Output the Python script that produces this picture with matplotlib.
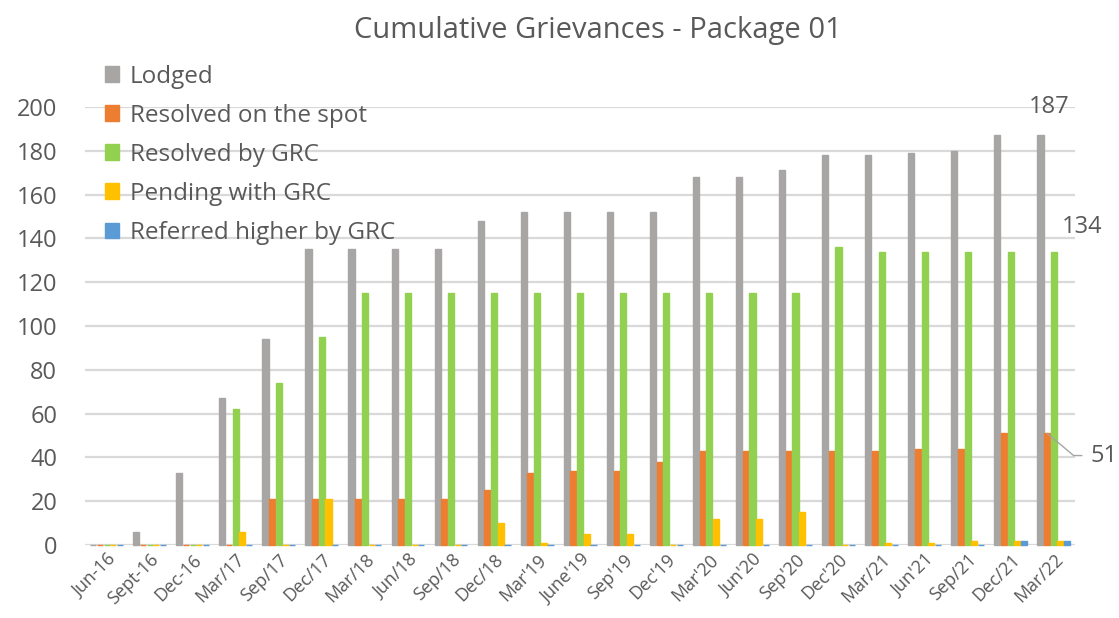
import numpy as np
import matplotlib.pyplot as plt

plt.rcParams['font.family'] = ['Open Sans', 'DejaVu Sans']

quarters = ["Jun-16", "Sept-16", "Dec-16", "Mar/17", "Sep/17", "Dec/17", "Mar/18",
            "Jun/18", "Sep/18", "Dec/18", "Mar'19", "June'19", "Sep'19", "Dec'19",
            "Mar'20", "Jun'20", "Sep'20", "Dec'20", "Mar/21", "Jun'21", "Sep/21",
            "Dec/21", "Mar/22"]

lodged = [0, 6, 33, 67, 94, 135, 135, 135, 135, 148, 152, 152, 152, 152,
          168, 168, 171, 178, 178, 179, 180, 187, 187]
resolved_spot = [0, 0, 0, 0, 21, 21, 21, 21, 21, 25, 33, 34, 34, 38,
                 43, 43, 43, 43, 43, 44, 44, 51, 51]
resolved_grc = [0, 0, 0, 62, 74, 95, 115, 115, 115, 115, 115, 115, 115, 115,
                115, 115, 115, 136, 134, 134, 134, 134, 134]
pending_grc = [0, 0, 0, 6, 0, 21, 0, 0, 0, 10, 1, 5, 5, 0,
               12, 12, 15, 0, 1, 1, 2, 2, 2]
referred_higher = [0, 0, 0, 0, 0, 0, 0, 0, 0, 0, 0, 0, 0, 0,
                   0, 0, 0, 0, 0, 0, 0, 2, 2]

series = [
    ("Lodged", lodged, "#A8A5A5"),
    ("Resolved on the spot", resolved_spot, "#ED7D31"),
    ("Resolved by GRC", resolved_grc, "#92D050"),
    ("Pending with GRC", pending_grc, "#FFC000"),
    ("Referred higher by GRC", referred_higher, "#5B9BD5"),
]

text_color = "#595959"
x = np.arange(len(quarters))
width = 0.155

fig = plt.figure(figsize=(11.19, 6.18), dpi=100)
ax = fig.add_axes([0.076, 0.118, 0.885, 0.709])

for i, (name, vals, color) in enumerate(series):
    offset = (i - 2) * width
    ax.bar(x + offset, vals, width=width * 0.92, color=color,
           edgecolor=color, linewidth=1.0, label=name, zorder=3, clip_on=False)

ax.set_xlim(-0.5, len(quarters) - 0.5)
ax.set_ylim(0, 200)
ax.set_yticks(np.arange(0, 201, 20))
ax.grid(axis='y', color='#D9D9D9', linewidth=1.6, zorder=0)
ax.set_axisbelow(True)
for s in ax.spines.values():
    s.set_visible(False)
ax.tick_params(axis='both', length=0, colors=text_color)
ax.tick_params(axis='y', labelsize=17, pad=20)
ax.set_xticks(x)
ax.set_xticklabels(quarters, rotation=45, ha='right', rotation_mode='anchor',
                   fontsize=13, color=text_color)
ax.tick_params(axis='x', pad=4)

fig.text(0.534, 0.951, "Cumulative Grievances - Package 01", fontsize=21,
         color=text_color, ha='center', va='center')

leg = ax.legend(loc='upper left', bbox_to_anchor=(0.005, 1.13), frameon=False,
                fontsize=17.5, handlelength=0.6, handleheight=0.6,
                handletextpad=0.45, labelspacing=0.62, labelcolor=text_color,
                borderaxespad=0.2)

# value labels on the last quarter
last = len(quarters) - 1
ax.annotate(f"{lodged[last]}", xy=(last - 2 * width, lodged[last]),
            xytext=(6, 12), textcoords='offset points', ha='center', va='bottom',
            fontsize=17, color=text_color)
ax.annotate(f"{resolved_grc[last]}", xy=(last, resolved_grc[last]),
            xytext=(6, 9), textcoords='offset points', ha='left', va='bottom',
            fontsize=17, color=text_color, annotation_clip=False)
ax.annotate(f"{resolved_spot[last]}", xy=(last - width, resolved_spot[last]),
            xytext=(31, -16), textcoords='offset points', ha='left', va='center',
            fontsize=17, color=text_color, annotation_clip=False,
            arrowprops=dict(arrowstyle='-', color='#A5A5A5', lw=1,
                            connectionstyle='angle,angleA=0,angleB=-40,rad=0',
                            relpos=(0, 0.5), shrinkA=4, shrinkB=0))

fig.savefig("out.png", dpi=100)
